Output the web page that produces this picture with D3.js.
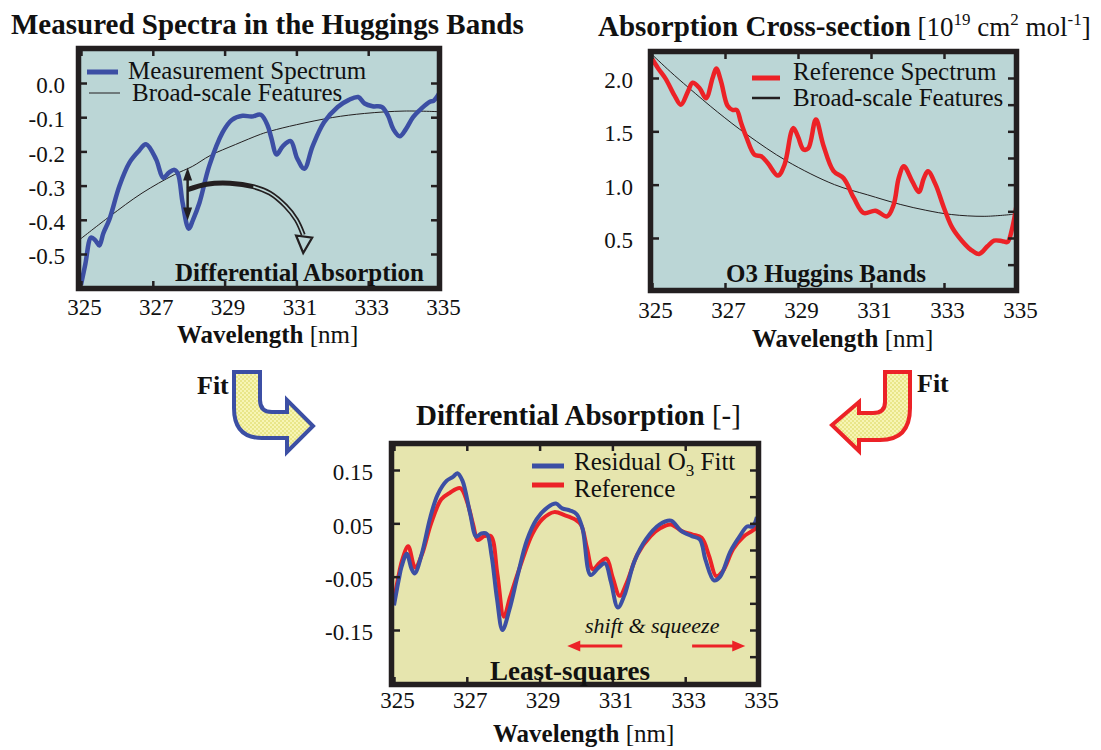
<!DOCTYPE html>
<html><head><meta charset="utf-8">
<script src="https://cdn.jsdelivr.net/npm/d3@7"></script>
<style>
body{margin:0;background:#fff}
svg{display:block;font-family:"Liberation Serif","Times New Roman",serif}
svg text{font-family:"Liberation Serif","Times New Roman",serif}
</style>
</head><body>
<svg id="c" width="1101" height="750"></svg>
<script>
// ---------------- data ----------------
const wavelengthTicks = [325, 327, 329, 331, 333, 335];
const measuredTicks = [0.0, -0.1, -0.2, -0.3, -0.4, -0.5];
const measuredTickLabels = ["0.0", "-0.1", "-0.2", "-0.3", "-0.4", "-0.5"];
const crossTicks = [2.0, 1.5, 1.0, 0.5];
const crossTickLabels = ["2.0", "1.5", "1.0", "0.5"];
const crossMinorTicks = [2.0, 1.75, 1.5, 1.25, 1.0, 0.75, 0.5, 0.25];
const diffTicks = [0.15, 0.05, -0.05, -0.15];
const diffTickLabels = ["0.15", "0.05", "-0.05", "-0.15"];
const diffMinorTicks = [0.15, 0.10, 0.05, 0.0, -0.05, -0.10, -0.15, -0.20];

// Measured spectrum [wavelength nm, value]
const measuredSpectrum = [
  [325.00,-0.59],[325.12,-0.53],[325.28,-0.452],[325.40,-0.46],[325.51,-0.475],[325.62,-0.44],
  [325.79,-0.399],[326.07,-0.301],[326.35,-0.233],[326.60,-0.20],[326.81,-0.179],[327.09,-0.223],
  [327.29,-0.277],[327.45,-0.262],[327.60,-0.254],[327.70,-0.265],[327.83,-0.35],[328.00,-0.426],
  [328.12,-0.40],[328.30,-0.35],[328.57,-0.243],[328.94,-0.145],[329.20,-0.108],[329.50,-0.096],
  [329.75,-0.098],[330.01,-0.093],[330.20,-0.125],[330.30,-0.16],[330.45,-0.209],[330.62,-0.185],
  [330.84,-0.17],[331.02,-0.22],[331.22,-0.251],[331.45,-0.185],[331.77,-0.115],[332.15,-0.07],
  [332.45,-0.05],[332.72,-0.041],[332.90,-0.06],[333.12,-0.068],[333.38,-0.070],[333.55,-0.095],
  [333.70,-0.135],[333.88,-0.156],[334.05,-0.135],[334.25,-0.10],[334.48,-0.075],[334.72,-0.055],
  [334.82,-0.052],[334.98,-0.030]
];
const measuredBroad = [
  [325.0,-0.455],[325.8,-0.390],[326.7,-0.322],[327.6,-0.268],[328.1,-0.244],[328.6,-0.212],
  [329.3,-0.180],[330.0,-0.150],[330.3,-0.140],[331.0,-0.122],[332.0,-0.101],[332.9,-0.089],
  [334.0,-0.082],[335.0,-0.084]
];
// O3 absorption cross-section [wavelength nm, 1e-19 cm2/mol]
const referenceSpectrum = [
  [325.00,2.18],[325.17,2.09],[325.38,1.99],[325.61,1.84],[325.79,1.75],[325.98,1.87],[326.11,1.955],
  [326.30,1.906],[326.48,1.81],[326.66,2.0],[326.76,2.09],[326.89,1.97],[327.07,1.74],[327.21,1.70],
  [327.32,1.70],[327.44,1.58],[327.58,1.45],[327.81,1.28],[327.99,1.266],[328.17,1.203],[328.45,1.085],
  [328.63,1.187],[328.82,1.50],[328.88,1.53],[329.00,1.45],[329.15,1.33],[329.28,1.34],[329.49,1.61],
  [329.69,1.375],[329.97,1.13],[330.25,1.06],[330.53,0.875],[330.80,0.734],[331.12,0.756],[331.44,0.703],
  [331.62,0.812],[331.76,1.063],[331.90,1.172],[332.13,1.031],[332.31,0.931],[332.45,1.063],[332.56,1.125],
  [332.77,1.0],[333.00,0.781],[333.23,0.594],[333.50,0.469],[333.73,0.391],[333.96,0.35],[334.19,0.422],
  [334.37,0.475],[334.60,0.47],[334.74,0.463],[334.87,0.594],[334.99,0.812]
];
const referenceBroad = [
  [325.0,2.22],[325.5,2.06],[326.0,1.91],[326.8,1.68],[327.6,1.47],[328.7,1.22],[330.0,1.00],
  [330.9,0.905],[331.8,0.815],[332.5,0.76],[333.2,0.72],[334.1,0.703],[334.9,0.722]
];
// Differential absorption
const residualFit = [
  [325.00,-0.104],[325.13,-0.056],[325.21,-0.031],[325.35,-0.007],[325.48,-0.035],[325.57,-0.044],
  [325.76,-0.008],[326.00,0.062],[326.20,0.104],[326.45,0.130],[326.62,0.137],[326.74,0.144],
  [326.88,0.130],[327.09,0.069],[327.26,0.025],[327.40,0.031],[327.55,0.030],[327.68,-0.010],
  [327.83,-0.092],[327.98,-0.150],[328.17,-0.112],[328.40,-0.047],[328.65,0.018],[328.92,0.058],
  [329.22,0.080],[329.45,0.087],[329.62,0.078],[329.84,0.074],[330.02,0.067],[330.18,0.040],
  [330.40,-0.047],[330.62,-0.033],[330.80,-0.025],[330.96,-0.060],[331.15,-0.108],[331.33,-0.085],
  [331.60,-0.022],[331.92,0.020],[332.30,0.048],[332.61,0.055],[332.87,0.037],[333.18,0.026],
  [333.40,0.020],[333.56,-0.019],[333.79,-0.057],[333.96,-0.050],[334.24,-0.003],[334.50,0.026],
  [334.70,0.044],[334.85,0.044],[334.97,0.062]
];
const diffReference = [
  [325.00,-0.094],[325.15,-0.040],[325.22,-0.020],[325.39,0.007],[325.58,-0.033],[325.77,-0.008],
  [326.02,0.050],[326.30,0.095],[326.53,0.107],[326.82,0.116],[327.00,0.092],[327.18,0.046],
  [327.30,0.019],[327.48,0.026],[327.66,0.026],[327.84,-0.045],[328.02,-0.125],[328.19,-0.088],
  [328.48,-0.028],[328.80,0.030],[329.08,0.058],[329.40,0.071],[329.70,0.065],[329.98,0.057],
  [330.14,0.047],[330.30,0.004],[330.46,-0.036],[330.65,-0.024],[330.84,-0.016],[331.01,-0.052],
  [331.20,-0.086],[331.39,-0.062],[331.69,-0.008],[332.05,0.026],[332.32,0.041],[332.60,0.048],
  [332.92,0.035],[333.20,0.029],[333.45,0.023],[333.66,-0.012],[333.85,-0.049],[334.03,-0.040],
  [334.32,0.002],[334.60,0.025],[334.82,0.035],[335.00,0.044]
];

// ---------------- drawing ----------------
const INK = "#231f20", BLUE = "#3c4fa4", RED = "#ec2227";
const SERIF = '"Liberation Serif","Times New Roman",serif';
const svg = d3.select("#c");
const defs = svg.append("defs");
const pat = defs.append("pattern").attr("id","chk").attr("width",4).attr("height",4)
  .attr("patternUnits","userSpaceOnUse");
pat.append("rect").attr("width",4).attr("height",4).attr("fill","#f7f5b4");
pat.append("rect").attr("width",2).attr("height",2).attr("fill","#e9e68a");
pat.append("rect").attr("x",2).attr("y",2).attr("width",2).attr("height",2).attr("fill","#e9e68a");

function makePanel(c) {
  const g = svg.append("g");
  const x = d3.scaleLinear().domain([325, 335]).range(c.xr);
  const y = d3.scaleLinear().domain(c.yd).range([c.b, c.t]);
  g.append("rect").attr("x", c.l).attr("y", c.t).attr("width", c.r - c.l).attr("height", c.b - c.t)
    .attr("fill", c.bg);
  const layer = g.append("g");
  const frame = g.append("g");
  frame.append("rect").attr("x", c.l - 2.5).attr("y", c.t - 2.5)
    .attr("width", c.r - c.l + 5).attr("height", c.b - c.t + 5)
    .attr("fill", "none").attr("stroke", INK).attr("stroke-width", 5.5);
  const left = frame.append("g").attr("transform", `translate(${c.l},0)`)
    .call(d3.axisLeft(y).tickValues(c.yt).tickFormat((d,i)=>c.yl[i]).tickSizeInner(-6).tickSizeOuter(0).tickPadding(c.ypad));
  const right = frame.append("g").attr("transform", `translate(${c.r},0)`)
    .call(d3.axisRight(y).tickValues(c.ym).tickFormat("").tickSizeInner(-6).tickSizeOuter(0));
  const bottom = frame.append("g").attr("transform", `translate(0,${c.b})`)
    .call(d3.axisBottom(x).tickValues(wavelengthTicks).tickFormat(d3.format("d")).tickSizeInner(-5).tickSizeOuter(0).tickPadding(c.xpad));
  const top = frame.append("g").attr("transform", `translate(0,${c.t})`)
    .call(d3.axisTop(x).tickValues(wavelengthTicks).tickFormat("").tickSizeInner(-5).tickSizeOuter(0));
  [left, right, bottom, top].forEach(a => {
    a.attr("font-family", null).attr("font-size", null).style("font-family", SERIF).style("font-size", "23px");
    a.select(".domain").remove();
    a.selectAll(".tick line").attr("stroke", INK).attr("stroke-width", 2.5);
    a.selectAll(".tick text").attr("fill", "#111").style("font-family", SERIF).style("font-size", "23px");
  });
  left.selectAll(".tick text").attr("dy", "0.42em");
  bottom.selectAll(".tick text").attr("dx", 3);
  return {g, layer, frame, x, y};
}

const lineGen = (p) => d3.line().x(d => p.x(d[0])).y(d => p.y(d[1])).curve(d3.curveCatmullRom.alpha(0.5));

function text(g, x, y, parts, size, anchor) {
  const t = g.append("text").attr("x", x).attr("y", y).style("font-size", size + "px")
    .style("font-family", SERIF).attr("text-anchor", anchor || "start").attr("fill", "#111");
  parts.forEach(p => {
    const s = t.append("tspan").text(p.t);
    if (p.b) s.attr("font-weight", "bold");
    if (p.i) s.attr("font-style", "italic");
    if (p.dy) s.attr("dy", p.dy);
    if (p.fs) s.style("font-size", p.fs + "px");
  });
  return t;
}

// ---- Panel 1 ----
const P1 = makePanel({l:81, r:437, t:51, b:286, xr:[81,440], yd:[-0.5936,0.0936], bg:"#bbd6d6",
  yt: measuredTicks, yl: measuredTickLabels, ym: measuredTicks, ypad:16, xpad:13});
P1.layer.append("path").datum(measuredBroad).attr("d", lineGen(P1)).attr("fill","none")
  .attr("stroke", INK).attr("stroke-width", 1);
P1.layer.append("path").datum(measuredSpectrum).attr("d", lineGen(P1)).attr("fill","none")
  .attr("stroke", BLUE).attr("stroke-width", 4.5).attr("stroke-linejoin","round");
// double-headed arrow and curved arrow (annotation)
{
  const ax = P1.x(327.97);
  const yt = P1.y(-0.247), yb = P1.y(-0.402);
  P1.layer.append("line").attr("x1", ax).attr("x2", ax).attr("y1", yt + 8).attr("y2", yb - 8)
    .attr("stroke", INK).attr("stroke-width", 2.5);
  P1.layer.append("path").attr("d", `M${ax},${yt} L${ax-4.5},${yt+13} L${ax+4.5},${yt+13} Z`).attr("fill", INK);
  P1.layer.append("path").attr("d", `M${ax},${yb} L${ax-4.5},${yb-13} L${ax+4.5},${yb-13} Z`).attr("fill", INK);
  const arc = [[327.97,-0.312],[328.5,-0.296],[329.15,-0.293],[329.8,-0.303],[330.26,-0.322],[330.7,-0.36],[331.0,-0.40],[331.19,-0.444]];
  P1.layer.append("path").datum(arc).attr("d", lineGen(P1)).attr("fill","none")
    .attr("stroke", INK).attr("stroke-width", 5);
  P1.layer.append("path").datum(arc.slice(3)).attr("d", lineGen(P1)).attr("fill","none")
    .attr("stroke", "#bbd6d6").attr("stroke-width", 1.6);
  const head = [[330.99,-0.446],[331.44,-0.452],[331.19,-0.497]];
  P1.layer.append("path").attr("d", "M" + head.map(d => P1.x(d[0]) + "," + P1.y(d[1])).join("L") + "Z")
    .attr("fill", "#bbd6d6").attr("stroke", INK).attr("stroke-width", 2.2).attr("stroke-linejoin","miter");
}
P1.g.append("line").attr("x1",87).attr("x2",118).attr("y1",72).attr("y2",72).attr("stroke",BLUE).attr("stroke-width",5);
text(P1.g, 128, 79, [{t:"Measurement Spectrum"}], 25);
P1.g.append("line").attr("x1",89).attr("x2",120).attr("y1",93).attr("y2",93).attr("stroke",INK).attr("stroke-width",1);
text(P1.g, 132, 101, [{t:"Broad-scale Features"}], 25);
text(P1.g, 175, 281, [{t:"Differential Absorption", b:true}], 25);
text(svg, 11, 34, [{t:"Measured Spectra in the Huggings Bands", b:true}], 29);
text(svg, 177, 343, [{t:"Wavelength", b:true},{t:" [nm]"}], 25);

// ---- Panel 2 ----
const P2 = makePanel({l:653, r:1014, t:54, b:288, xr:[652,1017], yd:[0.031,2.225], bg:"#bbd6d6",
  yt: crossTicks, yl: crossTickLabels, ym: crossMinorTicks, ypad:20, xpad:14});
P2.layer.append("path").datum(referenceBroad).attr("d", lineGen(P2)).attr("fill","none")
  .attr("stroke", INK).attr("stroke-width", 1);
P2.layer.append("path").datum(referenceSpectrum).attr("d", lineGen(P2)).attr("fill","none")
  .attr("stroke", RED).attr("stroke-width", 4.5).attr("stroke-linejoin","round");
P2.g.append("line").attr("x1",752).attr("x2",780).attr("y1",78).attr("y2",78).attr("stroke",RED).attr("stroke-width",5);
text(P2.g, 793, 80, [{t:"Reference Spectrum"}], 25);
P2.g.append("line").attr("x1",752).attr("x2",780).attr("y1",98).attr("y2",98).attr("stroke",INK).attr("stroke-width",2.5);
text(P2.g, 793, 106, [{t:"Broad-scale Features"}], 25);
text(P2.g, 726, 282, [{t:"O3 Huggins Bands", b:true}], 25);
text(svg, 598, 36, [{t:"Absorption Cross-section", b:true},{t:" [10", fs:27},{t:"19", fs:17, dy:-11},
  {t:" cm", fs:27, dy:11},{t:"2", fs:17, dy:-11},{t:" mol", fs:27, dy:11},{t:"-1", fs:17, dy:-11},{t:"]", fs:27, dy:11}], 29);
text(svg, 752, 347, [{t:"Wavelength", b:true},{t:" [nm]"}], 25);

// ---- Panel 3 ----
const P3 = makePanel({l:394, r:756, t:446, b:682, xr:[394,758], yd:[-0.2475,0.195], bg:"#e6e5ae",
  yt: diffTicks, yl: diffTickLabels, ym: diffMinorTicks, ypad:21, xpad:10});
P3.layer.append("path").datum(diffReference).attr("d", lineGen(P3)).attr("fill","none")
  .attr("stroke", RED).attr("stroke-width", 4).attr("stroke-linejoin","round");
P3.layer.append("path").datum(residualFit).attr("d", lineGen(P3)).attr("fill","none")
  .attr("stroke", BLUE).attr("stroke-width", 4).attr("stroke-linejoin","round");
{
  const ya = P3.y(-0.18);
  const arrows = [[331.27, 329.76], [333.19, 334.65]];
  arrows.forEach(([a, b]) => {
    const xa = P3.x(a), xb = P3.x(b), dir = Math.sign(xb - xa);
    P3.layer.append("line").attr("x1", xa).attr("x2", xb - dir*10).attr("y1", ya).attr("y2", ya)
      .attr("stroke", RED).attr("stroke-width", 3.2);
    P3.layer.append("path").attr("d", `M${xb},${ya} L${xb-dir*13},${ya-5.5} L${xb-dir*13},${ya+5.5} Z`).attr("fill", RED);
  });
}
P3.g.append("line").attr("x1",532).attr("x2",564).attr("y1",466).attr("y2",466).attr("stroke",BLUE).attr("stroke-width",5);
text(P3.g, 574, 470, [{t:"Residual O"},{t:"3", fs:17, dy:6},{t:" Fitt", dy:-6}], 25);
P3.g.append("line").attr("x1",532).attr("x2",564).attr("y1",485).attr("y2",485).attr("stroke",RED).attr("stroke-width",5);
text(P3.g, 574, 497, [{t:"Reference"}], 25);
text(P3.g, 585, 633, [{t:"shift & squeeze", i:true}], 22);
text(P3.g, 490, 680, [{t:"Least-squares", b:true}], 27);
text(svg, 416, 425, [{t:"Differential Absorption", b:true},{t:" [-]"}], 29);
text(svg, 493, 742, [{t:"Wavelength", b:true},{t:" [nm]"}], 25);

// ---- Fit arrows ----
svg.append("path").attr("d","M234,372 L260,372 L260,400 Q260,412 272,412 L287,412 L287,400 L313,426 L287,452 L287,438 L262,438 Q234,438 234,408 Z")
  .attr("fill","url(#chk)").attr("stroke",BLUE).attr("stroke-width",4).attr("stroke-linejoin","miter");
svg.append("path").attr("d","M910,372 L885,372 L885,402 Q885,413 873,413 L859,413 L859,402 L832,425 L859,451 L859,440 L880,440 Q910,440 910,408 Z")
  .attr("fill","url(#chk)").attr("stroke",RED).attr("stroke-width",4).attr("stroke-linejoin","miter");
text(svg, 197, 394, [{t:"Fit", b:true}], 26);
text(svg, 917, 392, [{t:"Fit", b:true}], 26);
</script>
</body></html>
